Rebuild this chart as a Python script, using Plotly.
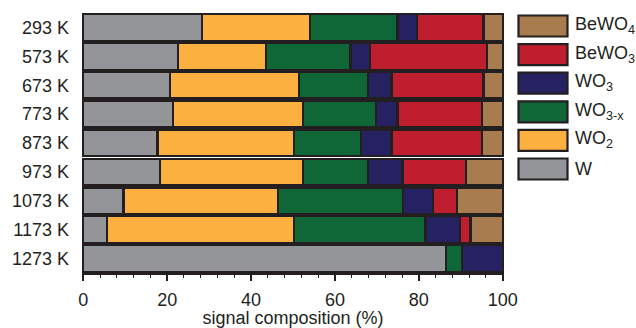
import plotly.graph_objects as go

# Temperatures (rows, top to bottom)
temperatures = ["293 K", "573 K", "673 K", "773 K", "873 K",
                "973 K", "1073 K", "1173 K", "1273 K"]

# Signal composition (%) of each species per temperature
w_vals     = [28.4, 22.6, 20.7, 21.4, 17.7, 18.3, 9.6, 5.7, 86.4]
wo2_vals   = [25.6, 21.0, 30.8, 31.0, 32.5, 34.0, 36.8, 44.5, 0.0]
wo3x_vals  = [20.9, 20.1, 16.3, 17.4, 16.0, 15.5, 29.9, 31.4, 3.9]
wo3_vals   = [4.6, 4.7, 5.7, 5.1, 7.3, 8.3, 7.1, 8.3, 9.7]
bewo3_vals = [15.9, 27.8, 21.9, 20.1, 21.5, 15.2, 5.7, 2.4, 0.0]
bewo4_vals = [4.6, 3.8, 4.6, 5.0, 5.0, 8.7, 10.9, 7.7, 0.0]

series_names = ["W", "WO<sub>2</sub>", "WO<sub>3-x</sub>", "WO<sub>3</sub>",
                "BeWO<sub>3</sub>", "BeWO<sub>4</sub>"]
series_values = [w_vals, wo2_vals, wo3x_vals, wo3_vals, bewo3_vals, bewo4_vals]
series_colors = ["#939598", "#fbb040", "#0f6637", "#262262", "#be1e2d", "#a97c50"]

INK = "#231f20"
FONT = "Liberation Sans, Arial, sans-serif"
FS = 18

W_PX, H_PX = 636, 328
L, R, T, B = 82, 132, 13, 55

fig = go.Figure()
for name, vals, col in zip(series_names, series_values, series_colors):
    fig.add_trace(go.Bar(
        y=temperatures, x=vals, orientation="h", name=name,
        marker=dict(color=col, line=dict(color=INK, width=2.2)),
        showlegend=False,
    ))

# Legend drawn as swatches + labels, stacked top-down from BeWO4 to W
plot_w = W_PX - L - R
plot_h = H_PX - T - B

def px_to_paper_x(px):
    return (px - L) / plot_w

def px_to_paper_y(py):
    return (H_PX - B - py) / plot_h

shapes = []
annotations = []
for i, (name, col) in enumerate(zip(series_names[::-1], series_colors[::-1])):
    top = 15.5 + 28.6 * i
    bot = top + 21
    shapes.append(dict(
        type="rect", xref="paper", yref="paper",
        x0=px_to_paper_x(518.5), x1=px_to_paper_x(567.5),
        y0=px_to_paper_y(bot), y1=px_to_paper_y(top),
        fillcolor=col, line=dict(color=INK, width=2.2),
    ))
    annotations.append(dict(
        xref="paper", yref="paper",
        x=px_to_paper_x(573), y=px_to_paper_y((top + bot) / 2 - 0.5),
        text=name, showarrow=False, xanchor="left", yanchor="middle",
        font=dict(size=FS, color=INK, family=FONT),
    ))

fig.update_layout(
    width=W_PX, height=H_PX,
    margin=dict(l=L, r=R, t=T, b=B),
    barmode="stack", bargap=0.08,
    paper_bgcolor="white", plot_bgcolor="white",
    font=dict(family=FONT, size=FS, color=INK),
    shapes=shapes, annotations=annotations,
    xaxis=dict(
        range=[-0.3, 100.3], tickvals=[0, 20, 40, 60, 80, 100],
        ticks="outside", ticklen=6, tickwidth=1.5, tickcolor=INK,
        minor=dict(dtick=4, tick0=0, ticks="outside", ticklen=3,
                   tickwidth=1.2, tickcolor=INK),
        showline=True, linecolor=INK, linewidth=2,
        showgrid=False, zeroline=False, ticklabelstandoff=3,
        automargin=False,
        title=dict(text="signal composition (%)", standoff=6,
                   font=dict(size=FS, color=INK)),
        tickfont=dict(size=FS, color=INK),
    ),
    yaxis=dict(
        categoryorder="array", categoryarray=temperatures,
        autorange="reversed", showgrid=False, zeroline=False,
        showline=False, ticks="", ticklabelstandoff=12,
        automargin=False,
        tickfont=dict(size=FS, color=INK),
    ),
)

fig.write_html("out.html")
